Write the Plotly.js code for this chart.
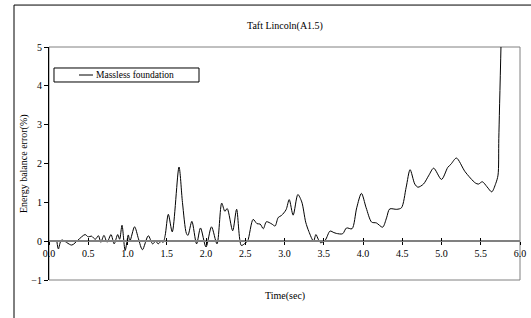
<!DOCTYPE html>
<html>
<head>
<meta charset="utf-8">
<script src="https://cdn.plot.ly/plotly-3.0.1.min.js"></script>
<style>
html,body{margin:0;padding:0;background:#fff;}
#chart{width:531px;height:318px;}
</style>
</head>
<body>
<div id="chart"></div>
<script>
const chartTitle = "Taft Lincoln(A1.5)";
const seriesName = "Massless foundation";
const xTitle = "Time(sec)";
const yTitle = "Energy balance error(%)";
const xTickVals = [0, 0.5, 1, 1.5, 2, 2.5, 3, 3.5, 4, 4.5, 5, 5.5, 6];
const xTickText = ["0.0","0.5","1.0","1.5","2.0","2.5","3.0","3.5","4.0","4.5","5.0","5.5","6.0"];
const yTickVals = [-1, 0, 1, 2, 3, 4, 5];

const time = [0.10,0.12,0.16,0.29,0.37,0.46,0.50,0.54,0.59,0.63,0.66,0.70,0.74,0.79,0.83,0.875,0.90,0.93,0.97,1.01,1.03,1.09,1.14,1.19,1.265,1.32,1.36,1.39,1.43,1.455,1.48,1.52,1.57,1.656,1.70,1.75,1.77,1.82,1.88,1.93,2.00,2.07,2.14,2.20,2.24,2.27,2.34,2.39,2.45,2.50,2.53,2.60,2.65,2.69,2.73,2.77,2.84,2.88,2.92,2.96,3.02,3.06,3.11,3.17,3.22,3.27,3.31,3.37,3.40,3.43,3.46,3.52,3.58,3.63,3.66,3.74,3.79,3.86,3.92,3.98,4.04,4.11,4.17,4.25,4.30,4.34,4.43,4.49,4.55,4.60,4.66,4.70,4.77,4.84,4.90,5.00,5.08,5.12,5.19,5.30,5.43,5.47,5.52,5.58,5.64,5.69,5.72,5.73,5.76];
const error = [0.0,-0.20,0.03,-0.10,0.03,0.17,0.11,0.13,0.05,0.14,-0.03,0.15,-0.03,0.17,-0.07,0.17,0.05,0.41,-0.24,0.16,0.0,0.37,0.06,-0.22,0.14,-0.07,0.0,-0.07,0.0,-0.03,0.15,0.69,0.24,1.91,1.0,0.2,0.15,0.51,-0.07,0.34,-0.15,0.37,-0.07,0.98,0.77,0.84,0.27,0.82,-0.11,-0.05,0.0,0.56,0.45,0.44,0.32,0.50,0.44,0.39,0.61,0.66,0.81,1.07,0.67,1.20,1.01,0.49,0.25,0.0,0.17,0.05,-0.04,0.03,0.26,0.22,0.20,0.19,0.34,0.32,0.86,1.23,0.86,0.49,0.47,0.36,0.60,0.83,0.82,0.86,1.39,1.84,1.47,1.39,1.47,1.70,1.88,1.59,1.90,1.98,2.14,1.79,1.50,1.47,1.53,1.40,1.27,1.48,1.70,2.64,5.2];

const font = {family: "Liberation Serif, Times New Roman, serif", size: 10, color: "#000"};
const legendFont = {family: "Liberation Serif, Times New Roman, serif", size: 9.5, color: "#000"};

const trace = {
  x: time, y: error, name: seriesName, type: "scatter", mode: "lines",
  line: {color: "#000", width: 1, shape: "spline", smoothing: 0.8},
  showlegend: false
};

const zeroPos = 1/6;
const layout = {
  width: 531, height: 318,
  margin: {l: 49, r: 11, t: 47, b: 38},
  paper_bgcolor: "#fff", plot_bgcolor: "#fff",
  font: font,
  showlegend: false,
  xaxis: {range: [0, 6], tickvals: xTickVals, ticktext: xTickText,
    anchor: "free", position: zeroPos, showline: true, linecolor: "#808080", linewidth: 2,
    ticks: "outside", ticklen: 3, tickcolor: "#000", tickwidth: 1,
    showgrid: false, zeroline: false, tickfont: font},
  xaxis2: {range: [0, 6], tickvals: xTickVals, overlaying: "x",
    anchor: "free", position: zeroPos, showline: false,
    ticks: "inside", ticklen: 3, tickcolor: "#000", tickwidth: 1,
    showticklabels: false, showgrid: false, zeroline: false},
  yaxis: {range: [-1, 5], tickvals: yTickVals, showline: true, linecolor: "#000", linewidth: 1,
    ticks: "outside", ticklen: 4, tickcolor: "#000", showgrid: false, zeroline: false,
    tickfont: font},
  shapes: [
    {type: "rect", xref: "paper", yref: "paper", x0: 0, x1: 1, y0: 0, y1: 1,
      line: {color: "#808080", width: 1}, layer: "below"},
    {type: "rect", xref: "paper", yref: "paper", x0: -0.0743, x1: 1.2, y0: -0.4, y1: 1.18,
      line: {color: "#000", width: 1}, layer: "below"},
    // legend box and sample line
    {type: "rect", xref: "paper", yref: "paper", x0: 0.0106, x1: 0.3185, y0: 0.8498, y1: 0.9099,
      line: {color: "#000", width: 1}, fillcolor: "#fff", layer: "above"},
    {type: "line", xref: "paper", yref: "paper", x0: 0.0637, x1: 0.0934, y0: 0.8798, y1: 0.8798,
      line: {color: "#000", width: 1}, layer: "above"}
  ],
  annotations: [
    {text: chartTitle, xref: "paper", yref: "paper", x: 0.5, y: 1.09, showarrow: false,
      xanchor: "center", yanchor: "middle", font: font},
    {text: xTitle, xref: "paper", yref: "paper", x: 0.5, y: -0.07, showarrow: false,
      xanchor: "center", yanchor: "middle", font: font},
    {text: yTitle, xref: "paper", yref: "paper", x: -0.054, y: 0.5, showarrow: false,
      xanchor: "center", yanchor: "middle", textangle: -90, font: font},
    {text: seriesName, xref: "paper", yref: "paper", x: 0.0977, y: 0.8798, showarrow: false,
      xanchor: "left", yanchor: "middle", font: legendFont, borderpad: 0}
  ]
};

const trace2 = {x: [0], y: [null], xaxis: "x2", type: "scatter", mode: "lines", showlegend: false, hoverinfo: "skip"};

Plotly.newPlot("chart", [trace, trace2], layout, {staticPlot: true, displayModeBar: false});
</script>
</body>
</html>
